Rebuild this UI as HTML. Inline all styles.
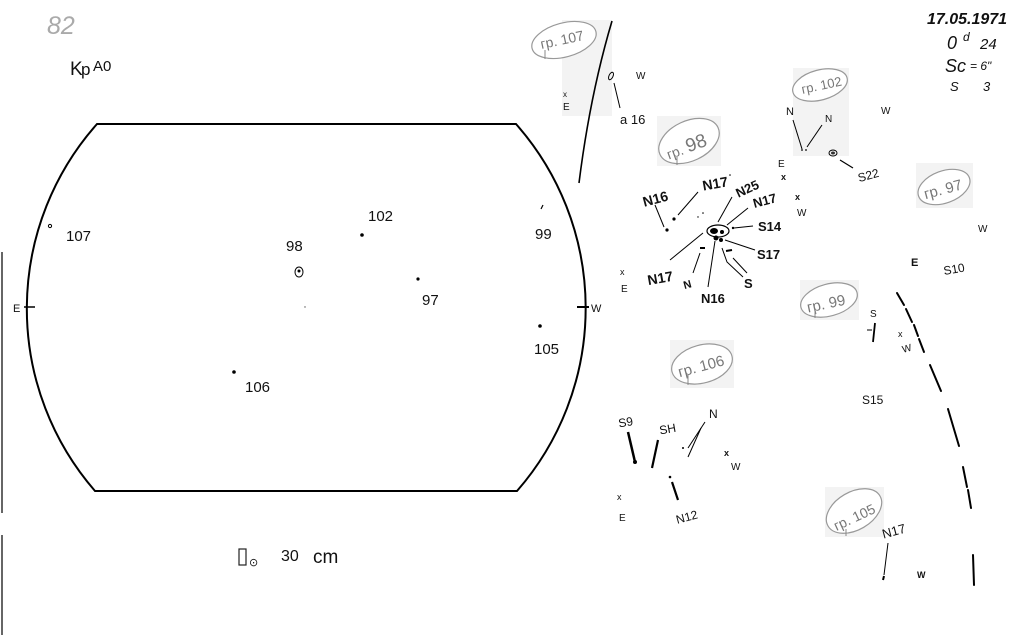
<!DOCTYPE html>
<html><head><meta charset="utf-8"><style>
html,body{margin:0;padding:0;background:#fff;width:1013px;height:635px;overflow:hidden}
svg{display:block}
text{font-family:"Liberation Sans","DejaVu Sans",sans-serif;fill:#111}
.g{fill:#777}
.b{font-weight:bold}
</style></head><body>
<svg width="1013" height="635" viewBox="0 0 1013 635" xmlns="http://www.w3.org/2000/svg">
<!-- gray scan patches -->
<g fill="#f3f3f3">
<rect x="562" y="20" width="50" height="96"/>
<rect x="657" y="116" width="64" height="50"/>
<rect x="793" y="68" width="56" height="88"/>
<rect x="916" y="163" width="57" height="45"/>
<rect x="800" y="280" width="59" height="40"/>
<rect x="670" y="340" width="64" height="48"/>
<rect x="825" y="487" width="59" height="50"/>
</g>

<!-- left edge lines -->
<line x1="2" y1="252" x2="2" y2="513" stroke="#333" stroke-width="1.5"/>
<line x1="2" y1="535" x2="2" y2="635" stroke="#333" stroke-width="1.5"/>

<!-- header -->
<text x="47" y="34" font-size="25" fill="#aaa" style="fill:#aaa;font-style:italic">82</text>
<text x="70" y="75" font-size="19">K</text>
<text x="81" y="75" font-size="17">p</text>
<text x="93" y="71" font-size="15">A0</text>

<text x="927" y="24" font-size="16" font-style="italic" class="b">17.05.1971</text>
<text x="947" y="49" font-size="18" font-style="italic">0</text>
<text x="963" y="41" font-size="12" font-style="italic">d</text>
<text x="980" y="49" font-size="15" font-style="italic">24</text>
<text x="945" y="72" font-size="18" font-style="italic">Sc</text>
<text x="970" y="70" font-size="12" font-style="italic">= 6"</text>
<text x="950" y="91" font-size="13" font-style="italic">S</text>
<text x="983" y="91" font-size="13" font-style="italic">3</text>

<!-- disk -->
<path d="M97,124 L516,124 A278,278 0 0 1 517,491 L95,491 A278,278 0 0 1 97,124 Z" fill="none" stroke="#000" stroke-width="2"/>
<line x1="24" y1="307" x2="35" y2="307" stroke="#000" stroke-width="1.5"/>
<line x1="577" y1="307" x2="589" y2="307" stroke="#000" stroke-width="2"/>
<text x="13" y="312" font-size="11">E</text>
<text x="591" y="312" font-size="11">W</text>

<!-- disk spots -->
<circle cx="50" cy="226" r="1.6" fill="none" stroke="#000" stroke-width="1"/>
<text x="66" y="241" font-size="15">107</text>
<text x="286" y="251" font-size="15">98</text>
<ellipse cx="299" cy="272" rx="4" ry="5" fill="none" stroke="#000" stroke-width="1"/>
<circle cx="299" cy="271" r="1.5" fill="#000"/>
<circle cx="305" cy="307" r="0.7" fill="#555"/>
<circle cx="362" cy="235" r="1.8" fill="#000"/>
<text x="368" y="221" font-size="15">102</text>
<circle cx="418" cy="279" r="1.6" fill="#000"/>
<text x="422" y="305" font-size="15">97</text>
<line x1="541" y1="209" x2="543" y2="205" stroke="#000" stroke-width="1.2"/>
<text x="535" y="239" font-size="15">99</text>
<circle cx="540" cy="326" r="1.8" fill="#000"/>
<text x="534" y="354" font-size="15">105</text>
<circle cx="234" cy="372" r="1.8" fill="#000"/>
<text x="245" y="392" font-size="15">106</text>

<!-- bottom caption -->
<rect x="239" y="549" width="7" height="16" fill="none" stroke="#222" stroke-width="1.2"/>
<text x="249" y="566" font-size="11">⊙</text>
<text x="281" y="561" font-size="16">30</text>
<text x="313" y="563" font-size="19">cm</text>

<!-- group 107 -->
<ellipse cx="564" cy="40" rx="33" ry="17" transform="rotate(-15 564 40)" fill="#fff" stroke="#999" stroke-width="1.2"/>
<text x="540" y="45" font-size="14" class="g" transform="rotate(-12 560 40)">гр. 107</text>
<line x1="545" y1="50" x2="545" y2="59" stroke="#888" stroke-width="1"/>
<path d="M612,21 Q590,95 579,183" fill="none" stroke="#000" stroke-width="1.6"/>
<text x="563" y="97" font-size="8">x</text>
<text x="563" y="110" font-size="10">E</text>
<ellipse cx="611" cy="76" rx="2" ry="4" transform="rotate(25 611 76)" fill="none" stroke="#000" stroke-width="1"/>
<text x="636" y="79" font-size="10">W</text>
<line x1="614" y1="83" x2="620" y2="108" stroke="#000" stroke-width="1"/>
<text x="620" y="124" font-size="13">a 16</text>

<!-- group 98 -->
<ellipse cx="689" cy="141" rx="32" ry="20" transform="rotate(-25 689 141)" fill="#fff" stroke="#999" stroke-width="1.2"/>
<text x="664" y="152" font-size="14" class="g" transform="rotate(-20 688 142)">гр. <tspan font-size="19">98</tspan></text>
<line x1="677" y1="157" x2="677" y2="165" stroke="#888" stroke-width="1"/>

<g class="b">
<text x="642" y="204" font-size="14" class="b" transform="rotate(-15 654 197)">N16</text>
<text x="702" y="189" font-size="14" class="b" transform="rotate(-10 712 182)">N17</text>
<text x="734" y="194" font-size="13" class="b" transform="rotate(-25 745 186)">N25</text>
<text x="752" y="206" font-size="13" class="b" transform="rotate(-15 761 198)">N17</text>
<text x="758" y="231" font-size="13" class="b">S14</text>
<text x="757" y="259" font-size="13" class="b">S17</text>
<text x="647" y="283" font-size="14" class="b" transform="rotate(-10 660 276)">N17</text>
<text x="683" y="288" font-size="11" class="b" transform="rotate(-15 688 283)">N</text>
<text x="701" y="303" font-size="13" class="b">N16</text>
<text x="744" y="288" font-size="13" class="b">S</text>
</g>
<g stroke="#000" stroke-width="1" fill="none">
<line x1="655" y1="205" x2="664" y2="227"/>
<line x1="698" y1="192" x2="678" y2="215"/>
<line x1="732" y1="197" x2="718" y2="222"/>
<line x1="748" y1="208" x2="727" y2="225"/>
<line x1="734" y1="228" x2="753" y2="226"/>
<line x1="725" y1="240" x2="755" y2="250"/>
<line x1="670" y1="260" x2="703" y2="233"/>
<line x1="693" y1="273" x2="700" y2="253"/>
<line x1="708" y1="287" x2="715" y2="241"/>
<polyline points="722,248 727,262 743,277"/>
<line x1="733" y1="258" x2="747" y2="273"/>
</g>
<circle cx="667" cy="230" r="1.6" fill="#000"/>
<circle cx="674" cy="219" r="1.6" fill="#000"/>
<circle cx="703" cy="213" r="0.8" fill="#000"/>
<circle cx="698" cy="217" r="0.7" fill="#000"/>
<circle cx="730" cy="175" r="0.8" fill="#000"/>
<circle cx="733" cy="228" r="1.2" fill="#000"/>
<ellipse cx="718" cy="231" rx="11" ry="6" fill="none" stroke="#000" stroke-width="1.2"/>
<ellipse cx="714" cy="231" rx="4" ry="3" fill="#000"/>
<circle cx="722" cy="232" r="2" fill="#000"/>
<circle cx="716" cy="238" r="2.5" fill="#000"/>
<circle cx="721" cy="240" r="2" fill="#000"/>
<line x1="700" y1="248" x2="705" y2="248" stroke="#000" stroke-width="2"/>
<line x1="726" y1="251" x2="732" y2="250" stroke="#000" stroke-width="2"/>
<text x="620" y="275" font-size="9">x</text>
<text x="621" y="292" font-size="10">E</text>
<text x="778" y="167" font-size="10">E</text>
<text x="781" y="180" font-size="9" class="b">x</text>
<text x="795" y="200" font-size="9" class="b">x</text>
<text x="797" y="216" font-size="10">W</text>

<!-- group 102 -->
<ellipse cx="820" cy="85" rx="28" ry="15" transform="rotate(-15 820 85)" fill="#fff" stroke="#999" stroke-width="1.2"/>
<text x="801" y="90" font-size="13" class="g" transform="rotate(-12 820 85)">гр. 102</text>
<text x="786" y="115" font-size="11">N</text>
<text x="825" y="122" font-size="10">N</text>
<line x1="793" y1="120" x2="802" y2="149" stroke="#000" stroke-width="1"/>
<line x1="822" y1="125" x2="807" y2="147" stroke="#000" stroke-width="1"/>
<circle cx="802" cy="150" r="0.9" fill="#000"/>
<circle cx="806" cy="150" r="0.9" fill="#000"/>
<ellipse cx="833" cy="153" rx="4" ry="3" fill="none" stroke="#000" stroke-width="1"/>
<ellipse cx="833" cy="153" rx="2" ry="1.5" fill="#333"/>
<line x1="840" y1="160" x2="853" y2="168" stroke="#000" stroke-width="1.2"/>
<text x="857" y="180" font-size="12" transform="rotate(-15 866 173)">S22</text>
<text x="881" y="114" font-size="10">W</text>

<!-- group 97 -->
<ellipse cx="944" cy="187" rx="27" ry="16" transform="rotate(-20 944 187)" fill="#fff" stroke="#999" stroke-width="1.2"/>
<text x="923" y="194" font-size="15" class="g" transform="rotate(-15 944 187)">гр. 97</text>
<text x="978" y="232" font-size="10">W</text>
<text x="911" y="266" font-size="11" class="b">E</text>
<text x="943" y="273" font-size="12" transform="rotate(-10 955 267)">S10</text>

<!-- group 99 -->
<ellipse cx="829" cy="300" rx="29" ry="16" transform="rotate(-15 829 300)" fill="#fff" stroke="#999" stroke-width="1.2"/>
<text x="806" y="308" font-size="15" class="g" transform="rotate(-12 829 300)">гр. 99</text>
<line x1="815" y1="309" x2="815" y2="318" stroke="#888" stroke-width="1"/>
<text x="870" y="317" font-size="10">S</text>
<line x1="875" y1="323" x2="873" y2="342" stroke="#000" stroke-width="1.8"/>
<line x1="867" y1="330" x2="872" y2="330" stroke="#000" stroke-width="1"/>
<text x="898" y="337" font-size="9">x</text>
<text x="902" y="352" font-size="10" transform="rotate(-15 906 348)">W</text>
<text x="862" y="404" font-size="12">S15</text>

<!-- dashed limb -->
<g stroke="#000" stroke-width="2" stroke-linecap="round">
<line x1="897" y1="293" x2="904" y2="305"/>
<line x1="906" y1="309" x2="912" y2="322"/>
<line x1="914" y1="325" x2="918" y2="336"/>
<line x1="919" y1="339" x2="924" y2="352"/>
<line x1="930" y1="365" x2="941" y2="391"/>
<line x1="948" y1="409" x2="959" y2="446"/>
<line x1="963" y1="467" x2="967" y2="487"/>
<line x1="968" y1="490" x2="971" y2="508"/>
<line x1="973" y1="555" x2="974" y2="585"/>
</g>

<!-- group 106 -->
<ellipse cx="702" cy="364" rx="31" ry="19" transform="rotate(-15 702 364)" fill="#fff" stroke="#999" stroke-width="1.2"/>
<text x="677" y="371" font-size="15" class="g" transform="rotate(-15 702 364)">гр. 106</text>
<line x1="688" y1="374" x2="688" y2="385" stroke="#888" stroke-width="1"/>
<text x="618" y="426" font-size="12" transform="rotate(-10 627 420)">S9</text>
<line x1="628" y1="432" x2="635" y2="462" stroke="#000" stroke-width="2.5"/>
<circle cx="635" cy="462" r="2" fill="#000"/>
<text x="659" y="433" font-size="12" transform="rotate(-10 668 427)">SH</text>
<line x1="658" y1="440" x2="652" y2="468" stroke="#000" stroke-width="2.2"/>
<text x="709" y="418" font-size="12">N</text>
<line x1="705" y1="422" x2="688" y2="448" stroke="#000" stroke-width="1"/>
<line x1="701" y1="428" x2="688" y2="457" stroke="#000" stroke-width="1"/>
<circle cx="683" cy="448" r="1" fill="#000"/>
<text x="724" y="456" font-size="9" class="b">x</text>
<text x="731" y="470" font-size="10">W</text>
<circle cx="670" cy="477" r="1.3" fill="#000"/>
<line x1="672" y1="482" x2="678" y2="500" stroke="#000" stroke-width="2.2"/>
<text x="675" y="521" font-size="12" transform="rotate(-15 687 514)">N12</text>
<text x="617" y="500" font-size="9">x</text>
<text x="619" y="521" font-size="10">E</text>

<!-- group 105 -->
<ellipse cx="854" cy="511" rx="30" ry="19" transform="rotate(-30 854 511)" fill="#fff" stroke="#999" stroke-width="1.2"/>
<text x="831" y="522" font-size="14" class="g" transform="rotate(-25 854 514)">гр. 105</text>
<line x1="846" y1="529" x2="846" y2="536" stroke="#888" stroke-width="1"/>
<text x="881" y="536" font-size="13" transform="rotate(-15 892 528)">N17</text>
<line x1="888" y1="543" x2="884" y2="575" stroke="#000" stroke-width="1"/>
<line x1="884" y1="576" x2="883" y2="580" stroke="#000" stroke-width="2"/>
<text x="917" y="578" font-size="9" class="b">W</text>
</svg>
</body></html>
